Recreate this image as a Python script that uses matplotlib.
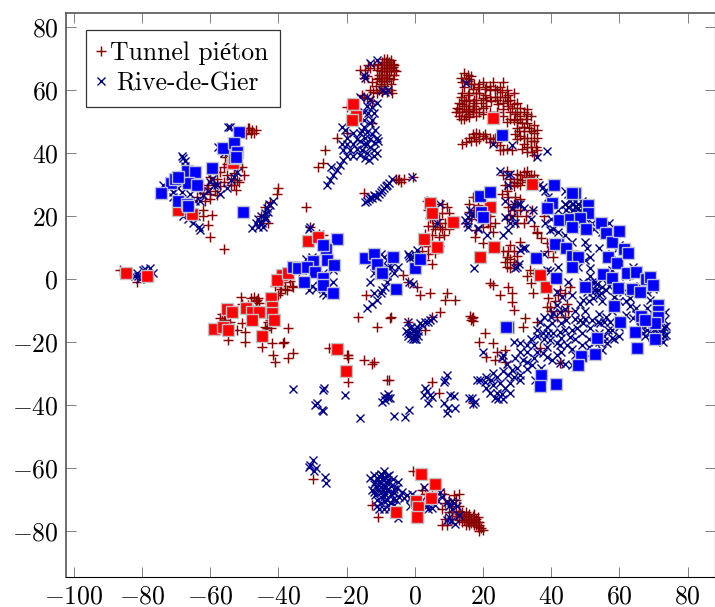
import numpy as np
import matplotlib
matplotlib.use('Agg')
import matplotlib.pyplot as plt

# values, (x, y) per group of points
pieton_top_a = [(-9,70),(-8,70),(-7,69.5),(-9.5,69),(-8.5,69),(-7.5,69),(-6.5,68.5),(-9.5,68),(-8.5,68),(-7.5,68),
    (-6.5,67.5),(-10,67),(-9,67),(-8,67),(-7,67),(-6,66.5),(-10,66),(-9,66),(-8,66),(-7,66),(-10.5,65),(-9.5,65),
    (-8.5,65),(-7.5,65),(-6,65),(-10.5,64),(-9.5,64),(-8.5,64),(-7.5,64),(-10,63),(-9,63),(-8,63),(-10,62),(-9,61.5),
    (-14.5,66.5),(-13,67),(-12,68),(-14,64.5),(-12.5,62.5),(-9.5,59.5),(-8,59.5),(-11,59),(-13,60),(-15,58),(-14,57.5),
    (-12.5,56.5),(-16,66.5),(-15,64),(-13.7,68),(-15.5,58.5),(-12.2,59.5),(-7,60),(-10.8,68.5),(-6,68),(-5.5,66),(-11,66.5),
    (-11,63.5),(-6.5,63.5),(-7,62),(-11.3,61.5),(-9,60.5),(-10.5,60),(-6.8,59.2)]
pieton_top_b = [(13.5,64),(14.5,65.5),(15.5,65),(16.5,64.5),(14,62.5),(15.5,63),(16.5,62),(14.5,61),(17,60.5),(18.5,61),
    (20,62.5),(21,61),(22,60),(23,62.5),(24,60),(25,61),(26,62.5),(27,60),(19,59),(20.5,58.5),(22,58),(23.5,58),(25,58),
    (26.5,58),(28,57),(29,59),(18,57),(19.5,56),(21,55),(24.5,55.5),(26,56),(27.5,55),(29,55.5),(30,56),(31,54.5),(32,53),
    (33,54),(28,53),(29.5,52.5),(31,52),(32.5,51),(34,52),(26,52),(24,53),(22,53),(20,54.5),(27,50),(28,51),(30,50),
    (31.5,49.5),(33,49.5),(35,49),(36,47.5),(30,48),(32,47),(34,47),(36,45),(29.5,46),(31,45.5),(33,45),(35,44),(32,43),
    (34,42),(35.5,42),(33,40.5),(35,39.5),(31.5,41.5),(36,41),(12,53),(13,52),(14,53),(15,52),(16,53.5),(13,54),(14.5,55),
    (16,55),(17,54),(13,56),(14.5,57),(16,57),(17.5,57),(14,59),(15.5,58.5),(17,53),(18,52),(14.5,51),(17.5,55),(19,53),
    (14,43),(15,43.5),(16,45),(17,46),(18,46.5),(19,46),(20,45.5),(21,45),(22,45),(23,44.5),(24,43.5),(25,42.5),(26,41),
    (27,41.5),(28.5,41),(18,44),(26,33),(28,32),(29,31),(30,32),(31,33),(32,34),(33,34.5),(34,33),(35,33),(36,32),(29,29.5),
    (31,30),(33,31),(34.5,31.5),(27,34.5),(26.5,30),(25.5,27),
    (16,63.5),(15,64),(17.5,62),(19,62),(20.5,60.5),(22,61.5),(23.5,60.5),(25.5,59.5),(27.5,58.5),(18,59),(20,57.5),(22.5,56.5),
    (24,57),(26,54),(27,56.5),(28.5,54.5),(30,53),(31,51),(33,52.5),(29,50.5),(30.5,47),(32,45),(33.5,48),(35,46.5),(34,44),
    (33,42),(34.5,40.5),(32,48.5),(30,44.5),(12.5,54.5),(13.5,51),(15,53.5),(16,51.5),(15,56.5),(13.5,58),(16,59),(13,53),
    (15.5,54),(14,55.5),(17,56),(16,52.5),(18,54),(20,52.5),(21,57),(16.5,44),(17.5,45.2),(19,44.5),(20.5,46),(22,43.5),(23.5,45),
    (25,41),(30,33.5),(31.5,31.5),(32.5,32.5),(33.5,32.5),(35,31),(34,30),(28,30),(30,30.5)]
pieton_mid = [(3.5,25),(6,24),(8,24),(9.5,23),(10,21),(4,22),(6,21),(8,21),(5,19),(7,19),(9,18),(4,17),(6,16),(8,16),(10,16),
    (3,14.5),(5,14),(7,13.5),(3,12),(5,11),(7,10.5),(2,9),(4,8),(6,8.5),(3,6),(5,5),(1,8),(0,7),(16,24),(17,26),(17.5,22),
    (18,20),(16.5,19),(15,18),(20,19),(22,20),(22,17),(20,16.5),(18,15.5),(17.7,13.4),(20,11.5),(23.5,17.8),(29,22),(30,20),
    (27.5,26),(27,28),(27,7),(29,9),(27,4),(33.8,3),(36,14.7),(38.7,11.5),(40.6,7),(29,24),(31,22),(27,19),(32,18),(34.5,22),
    (36,15),(28,11),(30,5),(26,9),(35,17),(38,20),(0.6,-2.4),(4.5,-4.5),(1.5,-5),(9.4,-4.5),(8.9,-6.6),(11.8,-6.6),(7.4,-10.3),
    (5,-12),(3,-16),(-7.2,-12.3),(-2,-13.5),(16.8,-12.4),(17.2,-13.2),(16.2,-11.5),(20.7,-17),(19,-20),(21,-24.7),(23,-20.3),
    (24,-23),(26.5,-22.4),(23.5,-25.6),(26.5,-26.2),(32.3,-12.2),(31.8,-15),(35.8,-13.4),(39.7,-8.7),(41.7,-12),(44,-12),
    (45.6,-2.4),(41,-7),(44.6,-7.7),(38.7,-8.7),(36.8,-21.8),(42.6,-26.7),(42.6,-3.4),(34,-1.2),(34.8,-4.4),(28.6,-7.2),
    (29,-9.7),(22,-1.2),(23,-1.8),(27.5,-2.3),(25,-5),(28.6,-4.5),(-8,-32),(-7.6,-32),(5,-32.5),(7,-36),(17,-39.4),
    (-3.5,1.5),(-2,-1),(-14.2,-5),(-16.5,-12),(-11,-15),(-15,-25.6),(-12.5,-27),(-12,-26.4),
    (27.5,23),(29.5,26),(31,25.5),(28,20.5),(30,18),(32.5,20),(27.5,9),(29,5.5),(28,6.5),(30,7.5),(28,3.5),(26.5,5.5),(31,12),
    (37,13),(39,9),(41,10),(33,1),(35,2),(16,21.5),(18.5,23.5),(21,21),(21.5,18),(20.5,23),(23,15),(6.5,18),(7.5,16.5),(8.5,14),
    (4.5,19.5),(5.5,17),(2.5,13),(4,10.5),(-7,-12),(17,-12),(16.5,-13),(40,-10),(43,-10),(45,-10),(39,-6),(42,-5),(44,-4.5)]
pieton_left = [(-86.4,3),(-81.4,-1),(-49,48),(-47.7,47.4),(-46.5,47.5),(-49.5,46),(-53,33.7),(-52,35),(-50.7,35.7),(-56,35.7),
    (-55,33),(-52,31.5),(-54,32),(-51.5,31),(-60,32.5),(-59,30.5),(-58,26.7),(-62,27.3),(-61,29),(-63.8,26),(-60,27),
    (-55.6,38.8),(-55,36.5),(-62,22),(-59.5,20.4),(-60.5,17.2),(-60,13.5),(-56,9.6),(-62,20),(-40,29),(-40.5,27),(-42.4,24.5),
    (-44,23),(-45,20),(-43,18),(-32,23),(-30.6,16.7),(-15,27.3),(-26.3,41),(-26.8,37),(-28.3,35.7),(-22.8,44.7),(-19.8,46.4),
    (-12.5,49.6),(-20,54.7),(-5,31.5),(-4.5,32),(-4,31),(-5.5,32),(-0.5,32.5),(-3,32),(-28,14.5),(-27,14),(-37,2),(-36,3),
    (-38,-1),(-40,0),(-38,1),(-36,-2),(-34,2),(-54.7,-19.2),(-49.7,-16.7),(-49.7,-20),(-44.8,-21.4),(-41.8,-20.3),(-41.5,-24),
    (-41,-26.2),(-38.6,-20.3),(-38.2,-20),(-37.1,-15.5),(-37.1,-25),(-35.6,-23.4),(-43.3,-15.5),(-44,-15),(-50.6,-14),
    (-46.2,-6.6),(-46.5,-7),(-50.6,-7.7),(-57,-12.3),(-56,-12.8),(-54.2,-13.4),(-52,-16),(-39.5,-4.4),(-39.2,-3.2),(-37.4,-3.4),
    (-35.6,-2.4),(-42.5,-13),(-43.5,-16),(-40,-5),(-49,-8),(-46,-6),(-24,-21.8),(-25,-21.8),(-20,-24),(-19.7,-25),(-19.5,-24),
    (-19.7,-32.6),(-29.7,-63.5),(-10.7,-75.4),(-12.5,-71.7),
    (-48.5,48),(-48,46.5),(-47,46.5),(-62,29),(-60.5,30),(-58.5,28),(-60,25.5),(-57,29.5),(-58,32),(-56,31),(-54,30),(-52.5,28.5),
    (-50,33),(-53,30),(-61.5,25),(-63,28.5),(-57,34),(-39.5,-2),(-38,-3),(-36.5,-0.5),(-41,-2),(-47,-5.5),(-45.8,-7.5),(-46.5,-9),
    (-56.5,-11),(-55.5,-13),(-43,-13.5),(-42,-15.5),(-51,-5.5),(-48,-6)]
pieton_bottom = [(12.5,-75),(13,-76.5),(14,-75),(14.5,-76.5),(15,-75.5),(15.5,-77),(16,-76),(16.5,-77.5),(17,-76.5),(17.5,-78),
    (18,-77),(18.5,-78.5),(19,-78),(19.5,-79),(20,-79.5),(19,-80),(15,-78),(16,-74.5),(14,-74),(13,-73.5),(17,-75),(18,-76),
    (11,-72),(10,-70),(8.5,-68),(9,-71),(8,-73),(11,-76),(9,-76),(8,-78),(9.5,-78),(12,-70),(13,-72),(10,-74),(7,-67),(13,-68),
    (11.5,-68.5),(5,-68),(3,-68),(2,-67),(-0.5,-61),
    (13.5,-75.5),(14.5,-75),(15,-76.5),(15.5,-75),(16.5,-76),(17,-77),(17.5,-76),(18,-78),(18.5,-77),(14,-77),(16,-78),(13,-74.5),
    (15,-74),(12,-74),(17.5,-74.5),(18.5,-75.5),(19,-77),(11,-74)]

rive_left = [(-81.4,2),(-81,1),(-79.6,3),(-77.6,3.5),(-76.6,2),(-82,1),(-80.5,0),(-78.5,2),(-79,3.2),(-54.7,48.4),(-54.3,48.4),
    (-57.6,42),(-56,40),(-68,38.4),(-68.3,39),(-67.5,37.5),(-73.7,30),(-70.8,27.8),(-68.2,27.8),(-68,20),(-66.5,19),(-65,18),
    (-63.4,16.7),(-63,15.5),(-64,20),(-62,26.7),(-60.5,28),(-59,30),(-59.5,32),(-55,29),(-53,32.5),(-54,31.5),(-67.5,36),
    (-47.7,16.3),(-46,16.6),(-45.3,17.8),(-44.3,19.4),(-44.8,18),(-43.8,21),(-43.3,22.6),(-42.4,23.6),(-41.5,25),(-45,20),
    (-44.5,16.5),(-43,21.5),(-30.6,16.7),(-31,16),(-25.7,30),(-24.8,31.5),(-24,33),(-22.8,34.7),(-24.5,35.5),(-22,36.3),
    (-21,37.9),(-19.9,39),(-21,41),(-21.3,43),(-19.9,43),(-21.3,48.3),(-20.5,47.5),(-18,46.4),(-16,46.5),(-14,46.8),(-15,43),
    (-13,42),(-15.5,41),(-11.6,43.3),(-10.8,43.8),(-14,40),(-12,39),(-14.5,38.4),(-13,57),(-12.5,54.7),(-14,58),(-16,58),
    (-13.7,52.8),(-12,52.8),(-13,49.6),(-15,48.5),(-11,45),(-17,44.5),(-13,68.7),(-11,69.6),(-15,64.8),(-14.5,64),(-9.6,60),
    (-8.6,59.5),(-7.7,60),(-14,25),(-13,26),(-12,26.7),(-11,26),(-10,27.7),(-9,29),(-8,30),(-6.7,32),(-0.7,32.5),(-13.5,25.5),
    (-7.5,30.5),(-31,3),(-26,-5),(-27,-4.5),(-30,-2),(-33,-1),(-29,-3),(-25,-2),(-28,0),(-24,3),(-27,2),(-24,-1),(-30,7),(-26,8),
    (-32,6.5),(-31,-3.5),(-14,7),(-13,5),(-12,6),(-11,7),(-10,8),(-9,7),(-8,6),(-11,4),(-10,3),(-9,2),(-8,1),(-6,2),(-5,4),(-7,4),
    (-12,2),(-13,-1),(-14,-9),(-12.5,-7.7),(-11,-6.6),(-10,-4.5),(-8.7,-2.4),(-9.5,-3.5),(-12,-4.5),(-35.6,-34.9),(-26.6,-34.5),
    (-27,-35),(-20.4,-36.7),(-28.7,-39.3),(-29.3,-40),(-26.8,-41.8),(-27.2,-41.4),(-16,-44),(-9.6,-39),(-8.7,-38.3),(-7.7,-37.6),
    (-29.7,-57.4),(-30.7,-59),(-31,-59.7),(-29.5,-61),(-29,-60),(-26.3,-62.7),(-26,-64.7),
    (-15.5,47),(-14.5,45),(-13,44.5),(-12,41),(-11,40),(-13.5,38),(-16,44),(-17,41.5),(-18,43),(-19,41),(-20,45),(-18,39),(-16,39.5),
    (-14,43),(-12.5,46),(-11.5,47.5),(-15,50.5),(-14,55),(-15,53),(-12.5,50.5),(-11,56),(-16,52),
    (-64.5,25),(-66,27),(-72,29),(-69.5,29),(-71,26),(-63,25),(-58,30),(-60,31),(-57,27),(-52,34),
    (-12.5,25.8),(-11.5,26.3),(-10.5,27),(-9.5,28.3),(-8.5,29.5),(-14.5,24.5),(-46.5,18),(-43.5,19.5),(-46,19),(-42.8,24)]
rive_mid = [(-2.5,-16.5),(-2,-18),(-1,-17),(-0.5,-19),(0,-18),(0.5,-17),(1,-16.5),(-1.5,-15.5),(0,-16),(-1,-18.5),(0.5,-19),
    (1.5,-14),(3,-13.5),(4,-13.5),(5.4,-12.4),(-2,-13.5),(-7.2,-37.7),(-9,-37),(-7.7,-36.5),(-6.2,-43.5),(-2.8,-43.7),(-1.8,-41.5),
    (3,-34.6),(2.6,-36.7),(4.5,-36.7),(4,-39.3),(3.5,-35.5),(5,-37.5),(9.4,-30.4),(9,-32),(8.6,-32.5),(10.4,-36.7),(11.5,-37),
    (8.5,-39.3),(9.9,-40.9),(11.8,-40.9),(9.4,-42.6),(15.8,-37.8),(16.8,-37.8),(17.7,-38.9),(17.2,-39.5),(18.2,-32),(19.2,-32),
    (-1.4,6.7),(-1.6,7.5),(-0.5,7),(0.6,9.3),(-1.8,-1),(-0.5,-1.5),(-8.2,-1),(-7.7,4),(15,62.4),(17.4,3.7),(15.6,19.8),(15.2,17.8),
    (16.2,22),(14.7,18.8),(18.6,16),(21.2,14),(25.9,14),(27.4,15.5),(26.5,19.8),(28.5,19.8),(26.5,25),(30.4,24),(6.5,17.8),(7.4,24),
    (31.8,10),(30,3.9),(34.7,22),(34.2,19),(35.8,38.8),(38.7,40.7),(23,43),(28.5,42.6),(25,34.3),(27.5,33),(28,33.5),(27.5,30),
    (37.7,29.3),(36.5,30),(29,24),(31,24),(28.5,22.5),(32,22.5),(29.5,18),(28,18),(32.4,10),(30.9,9.3),(29.4,3.6),(30.5,5),(39.7,15.6),
    (40.6,16),(38.2,17.8),(38.8,3),(39.8,2.5),(16.8,21),(18.6,16.2),(44,24),(42,22),(40,19),(42,15),(46,12),(38,8),(42,4),(45,-1),
    (-1,-15),(-2,-17),(0,-19),(1,-18),(-0.5,-16.5),(0.8,-15),(2.2,-14.5),(4.5,-13),(0,8),(-2,8),(1,7),(15.5,16.5),(17,20),(38.3,28),(39,26)]
rive_right = [(46,26),(47,25),(48,24),(46.5,22),(45,23),(48,21),(44,24),(49.5,23),(45,27),(44,28),(52.8,-3.4),(51,-2),(54,-5),(54.3,-14),
    (51.4,3.6),(51.4,7),(50.5,10),(68,-9),(73,-15),(48,4),(50,6),(50,12),(52,-1),(55,0),(57,-2),(60,-7),(61,-4),(63,-6),(58,3),(62,1),
    (64,4),(66,-2),(68,-4),(70,-3),(65,-9),(68,-12),(66,-14),(58,8),(60,11),(54,10),(55,15),(57,18),(52,18),(50,21),(47,18),(44,14),
    (21,-31),(23,-29.9),(21,-34.5),(23,-33.5),(24,-36),(25.5,-36.3),(23.5,-37.7),(26.5,-34.5),(25,-33),(27.5,-30.4),(28.5,-28.8),
    (30,-28.2),(30.9,-30.4),(29,-31),(33,-26.2),(31.8,-25.6),(34.4,-27.2),(32.9,-20.9),(30.9,-20.2),(29,-19.9),(35.3,-32),(26,-24),
    (25.5,-25),(20,-23),(22,-36),(24,-31),(26,-29),(28,-33),(33,-23),(35,-25),(37,-28),(41.7,-24),(38.7,-24.6),(40.2,-25.6),(37.7,-23.5),
    (38.7,-21.5),(42.6,-26.7),(44,-27),(46,-27.2),(39.7,-19.3),(41.7,-20.2),(43,-18.7),(42.6,-21),(44.6,-20.9),(40.7,-17),(42.6,-16.7),
    (38.8,-15),(40.2,-14),(36.8,-13.4),(46,-16),(47.5,-15.6),(48.5,-13),(45.6,-18.2),(49.5,-14),(40.7,-10.8),(42.6,-10.3),(44,-9.4),
    (41.7,-8.2),(43.2,-5.5),(41.7,-4),(48.5,-7.7),(49.5,-6.6),(52.4,-6),(53.8,-3.4),(53.4,-1.5),(55,-2.4),(51,-7),(53.8,-13.4),(55.4,-13.4),
    (51.4,-15.6),(57.2,-13.4),(56.8,-16),(57.8,-18.7),(56.3,-20.3),(55,-22.4),(58.5,-19),(55.5,-18),(52,-23),(53,-20),(62.1,-11.3),
    (68,-16),(69.7,-18.2),(67,-17),(72.8,-20),(73.8,-17.8),(72.8,-16),(71,-17),(73.8,-14.7),(73.4,-10.4),(73,-13),(66,-13),(69,-6.6),
    (64,-12.3),(71,-19),(72,-18),(70.5,-16),(46,-5),(47,-10),(58,-10),(60,-18),(50,-10),(46,-22),
    (45.5,25),(46.5,24),(47.5,26),(48,22.5),(49,25),(46,20.5),(44.5,22),(47,23),(49,21),(50,19.5),(52.5,16),(52,-4),(50.5,-4),(53,-1),(54.5,-4.5),
    (49.5,-1),(51.5,1),(56,-3.5),(58.5,-5.5),(59,-7.5),(62,-7),(63,-8.5),(55,-7),(56,-12),(54,-11),(52,-13),(50,-12.5),(47,-12.5),(44.5,-13),(43,-14),
    (40,-12),(38,-12),(44,-16),(47,-19),(49,-17),(51,-19),(54,-17),(54,-20),(58,-16),(60,-15),(67.5,-18),(68,-14.5),(70,-15),(72,-14),(72.5,-17),
    (71,-15.5),(69,-17),(73,-18),(66.5,-15),(72,-12),(65,-11),(36,-18),(38,-19),(36,-23),(33,-28.5),(31,-32),(28,-36),(26,-38),(24.5,-38),(22.5,-32),
    (20.5,-32.5),(27,-27),(29.5,-25),(31,-23),(34,-19),(36,-16),(37.5,-17),(39,-17),(35,-21),(43,-23),(47,-24),(49,-21),(51,-21.5),(55.5,-19.5)]
rive_bottom = [(-13,-63),(-12,-67.4),(-12.5,-67),(-10,-61.8),(-9,-61),(-11,-63),(-9,-63.5),(-7.7,-63.7),(-7.5,-62),(-10,-64.8),(-8.6,-65.5),
    (-6.6,-65.3),(-5.2,-66.3),(-10,-67.5),(-8,-67),(-3.7,-67.4),(-6,-67.8),(-2.4,-68.4),(-0.9,-68),(-9,-69),(-11,-72),(-10,-71),(-8,-70),
    (-7,-71),(-9,-72.8),(-6,-71.5),(-5,-75.8),(-8.5,-65.9),(-11,-65.9),(-10,-66),(-11.5,-64.5),(-12,-65),(-9.6,-63.5),(-10.6,-64.5),
    (-7.7,-66.5),(-7,-68),(-5.5,-70),(2.6,-65.9),(3,-71),(7.5,-67.4),(4,-72.8),(6,-71.5),(8,-69),(11.4,-71),(12.4,-72),(11,-72.8),(10,-75.4),
    (9.5,-76.5),(11.8,-77.7),(10.5,-76.8),(12.9,-74.8),(-1.4,-72),(0.6,-72),
    (-10.5,-62.5),(-9.5,-62.2),(-8.2,-62.4),(-10.8,-67),(-9.2,-67),(-8.8,-68),(-10,-69),(-11,-70),(-9,-70.5),(-7.8,-71.8),(-8.2,-64.7),(-6.5,-63.5),
    (-6,-66.5),(-4.5,-69),(-3,-69.5),(-1.5,-69.5),(-6.5,-69.8),(-10.5,-72.8),(-11.5,-68.5),(-7.5,-72.8),(-11.8,-62),(-5,-64.5),(0,-70.5),(1.5,-72.2),
    (3.5,-72),(5,-72.5),(2,-70),(4.5,-70.5),(6.5,-70),(10,-72),(9.5,-70.8),(10.8,-70.5)]

rive_labeled = [(-51.5,46.8),(-56.2,41.7),(-53,43.2),(-52,40.5),(-52.4,38.9),(-59.5,35.3),(-66.8,34.3),(-64.4,34),(-66.4,30.6),(-63.9,29.9),
    (-71.4,30.6),(-70.2,32),(-69.4,32.6),(-74.4,27.4),(-69.4,24.9),(-66.8,24),(-66.4,23.2),(-50.3,21.4),(-22.8,12.8),(-26,9.6),(-26.8,10.9),
    (-29.7,5.8),(-25.7,6),(-23.7,4.5),(-35.6,3.9),(-34.2,3.5),(-31.6,3.9),(-29.2,2.3),(-32.4,-0.8),(-26.8,0.4),(-26.8,-1.8),(-24,-4.5),
    (-14.5,6.7),(-11.9,8),(-11,4.9),(-10,2),(-6.3,7),(-9.7,2),(0,3.5),(1.6,6.4),(-5.4,-3),(25.7,45.9),(19.2,26.4),(22,27.7),(19.5,21.4),
    (20,19.8),(40.9,29.9),(47,27.3),(46,27.5),(40.3,24.2),(38.8,22.6),(50.9,23.5),(50.9,21),(42.3,18.8),(45.5,19.1),(48.5,19.5),(46,16.6),
    (50.2,16),(54.6,17.8),(56,14.7),(57.8,11.8),(59.9,15.3),(42,11.2),(41,11.2),(44.3,10),(46.1,7.4),(47.9,7),(46.1,3.9),(35.6,6.7),(41.4,0.4),
    (50,-2.4),(55.3,1.7),(57.8,0.4),(56.7,7),(59.4,5.1),(61.4,9.6),(62.5,8.3),(62.2,2),(64.9,2.3),(67.8,0.1),(69,0.7),(69.9,-1.8),(63.7,-3.1),
    (59.6,-2.8),(66,-4),(58.4,-8.5),(60.2,-13.4),(71.4,-8.2),(71.4,-10),(71.4,-11.9),(70.5,-14),(66.4,-11.7),(67.5,-13),(64.7,-16.7),
    (65.2,-21.7),(70.5,-19),(53.6,-18.7),(48.9,-24.3),(52.9,-23.7),(47.9,-27.2),(37,-30.4),(36.8,-33.8),(41.4,-33.2),(27.5,-15),(26.8,-15.2)]
pieton_labeled = [(-18,55.7),(-17.2,51.8),(-18.4,50.6),(-84.6,2),(-78.5,1),(-31.3,12.2),(-28.3,13.4),(-53.2,36.9),(-53,38.5),(-65.3,20.7),
    (-69.5,22),(-38.9,1.4),(-40.4,-0.2),(-37.1,2),(-42,-5.9),(-41.8,-8.7),(-41.8,-10.7),(-41.2,-12.9),(-55,-9.4),(-53.6,-10.4),(-49.4,-9.1),
    (-47.8,-10.4),(-45.6,-10.4),(-47.8,-12.9),(-59,-15.8),(-56.1,-15.1),(-54.7,-16),(-44.8,-18),(-22.8,-22.2),(-20.1,-29.1),(23,51.2),
    (34.4,30.2),(4.5,24.2),(5,21),(11.2,18.2),(2.7,12.8),(6.5,10.3),(22,23),(23.3,10.3),(19.2,7),(36.7,1.4),(38.4,-2.4),(1.8,-61.8),(6,-65),
    (0.4,-70.4),(4.8,-69.4),(1,-72.3),(0.6,-75.4),(-5.5,-73.9)]

xticks = [-100, -80, -60, -40, -20, 0, 20, 40, 60, 80]
yticks = [-80, -60, -40, -20, 0, 20, 40, 60, 80]

plt.rcParams['font.family'] = ['cmr10', 'Liberation Serif']
plt.rcParams['mathtext.fontset'] = 'cm'
plt.rcParams['axes.formatter.use_mathtext'] = True

fig = plt.figure(figsize=(7.15, 6.07), dpi=100)
ax = fig.add_axes([66/715, 1 - 577/607, (714.5-66)/715, (577-13)/607])

pieton = np.array(pieton_top_a + pieton_top_b + pieton_mid + pieton_left + pieton_bottom)
rive = np.array(rive_left + rive_mid + rive_right + rive_bottom)
pl = np.array(pieton_labeled)
rl = np.array(rive_labeled)

ax.plot(pieton[:, 0], pieton[:, 1], ls='none', marker='+', ms=7.5, mew=1.05, color='#8b0000', label='Tunnel piéton')
ax.plot(rive[:, 0], rive[:, 1], ls='none', marker='x', ms=6, mew=1.0, color='#00008b', label='Rive-de-Gier')
ax.plot(pl[:, 0], pl[:, 1], ls='none', marker='s', ms=8.2, mew=1.0, color='#ff0000', mec='#c4c0c4')
ax.plot(rl[:, 0], rl[:, 1], ls='none', marker='s', ms=8.2, mew=1.0, color='#0000ff', mec='#c0c0d4')

ax.set_xlim((66-414.7)/3.41, (714.5-414.7)/3.41)
ax.set_ylim((279.3-577)/3.15, (279.3-13)/3.15)
ax.set_xticks(xticks)
ax.set_yticks(yticks)
ax.tick_params(direction='in', length=7, width=0.7, color='#808080', top=True, right=True, labelsize=18.5, pad=5.5)
ax.spines['left'].set_color('#555555')
ax.spines['top'].set_color('#555555')
ax.spines['left'].set_linewidth(1.2)
ax.spines['top'].set_linewidth(1.2)

leg = ax.legend(loc='upper left', bbox_to_anchor=(20/648.5, 1 - 17/564), borderaxespad=0, fontsize=18.5, fancybox=False,
                framealpha=1, edgecolor='#333333', handlelength=0.3, handletextpad=0.18, labelspacing=0.25, borderpad=0.45)
leg.get_frame().set_linewidth(0.9)
leg.get_texts()[1].set_position((6, 0))

plt.savefig('out.png', dpi=100)
